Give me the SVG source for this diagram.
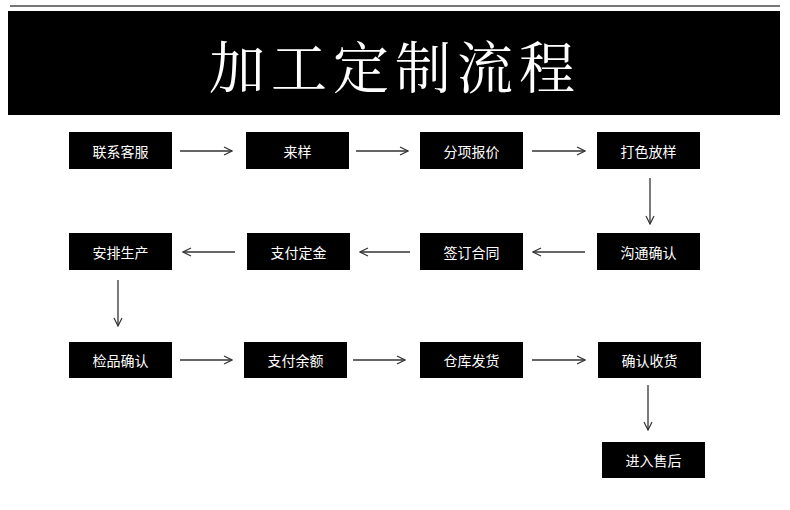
<svg xmlns="http://www.w3.org/2000/svg" width="790" height="510" viewBox="0 0 790 510">
<style>
.n{fill:#000}
.t{fill:#fff;font-family:"Noto Sans CJK SC",sans-serif;font-size:14px;text-anchor:middle;dominant-baseline:central}
.c{stroke:#333;stroke-width:1.3;fill:none;marker-end:url(#a)}
</style>
<defs><marker id="a" viewBox="0 0 10 10" refX="9" refY="5" markerWidth="10" markerHeight="10" markerUnits="userSpaceOnUse" orient="auto"><path d="M1,1 L9,5 L1,9" fill="none" stroke="#333" stroke-width="1.2"/></marker></defs>
<rect width="790" height="510" fill="#fff"/>
<line x1="10" y1="6" x2="780" y2="6" stroke="#777" stroke-width="2"/>
<rect x="8" y="11" width="772" height="104" fill="#000"/>
<text x="395" y="64" fill="#fff" font-family="'Noto Serif CJK SC','Noto Sans CJK SC',serif" font-size="56" text-anchor="middle" dominant-baseline="central" letter-spacing="6">加工定制流程</text>
<g id="n1"><rect class="n" x="69" y="132" width="103" height="37"/><text class="t" x="120.5" y="150.5">联系客服</text></g>
<g id="n2"><rect class="n" x="246" y="132" width="103" height="37"/><text class="t" x="297.5" y="150.5">来样</text></g>
<g id="n3"><rect class="n" x="420" y="132" width="103" height="37"/><text class="t" x="471.5" y="150.5">分项报价</text></g>
<g id="n4"><rect class="n" x="597" y="132" width="103" height="37"/><text class="t" x="648.5" y="150.5">打色放样</text></g>
<g id="n5"><rect class="n" x="597" y="233" width="103" height="37"/><text class="t" x="648.5" y="251.5">沟通确认</text></g>
<g id="n6"><rect class="n" x="420" y="233" width="103" height="37"/><text class="t" x="471.5" y="251.5">签订合同</text></g>
<g id="n7"><rect class="n" x="247" y="233" width="103" height="37"/><text class="t" x="298.5" y="251.5">支付定金</text></g>
<g id="n8"><rect class="n" x="69" y="233" width="103" height="37"/><text class="t" x="120.5" y="251.5">安排生产</text></g>
<g id="n9"><rect class="n" x="69" y="342" width="103" height="36"/><text class="t" x="120.5" y="360">检品确认</text></g>
<g id="n10"><rect class="n" x="244" y="342" width="103" height="36"/><text class="t" x="295.5" y="360">支付余额</text></g>
<g id="n11"><rect class="n" x="420" y="342" width="103" height="36"/><text class="t" x="471.5" y="360">仓库发货</text></g>
<g id="n12"><rect class="n" x="598" y="342" width="103" height="36"/><text class="t" x="649.5" y="360">确认收货</text></g>
<g id="n13"><rect class="n" x="602" y="442" width="103" height="36"/><text class="t" x="653.5" y="460">进入售后</text></g>
<g id="connectors">
<line class="c" x1="180" y1="151" x2="232" y2="151"/>
<line class="c" x1="356" y1="151" x2="408" y2="151"/>
<line class="c" x1="532" y1="151" x2="585" y2="151"/>
<line class="c" x1="650" y1="178" x2="650" y2="224"/>
<line class="c" x1="585" y1="252" x2="533" y2="252"/>
<line class="c" x1="410" y1="252" x2="360" y2="252"/>
<line class="c" x1="235" y1="252" x2="183" y2="252"/>
<line class="c" x1="118" y1="280" x2="118" y2="326"/>
<line class="c" x1="180" y1="360" x2="232" y2="360"/>
<line class="c" x1="353" y1="360" x2="405" y2="360"/>
<line class="c" x1="532" y1="360" x2="585" y2="360"/>
<line class="c" x1="648" y1="385" x2="648" y2="430"/>
</g>
</svg>
